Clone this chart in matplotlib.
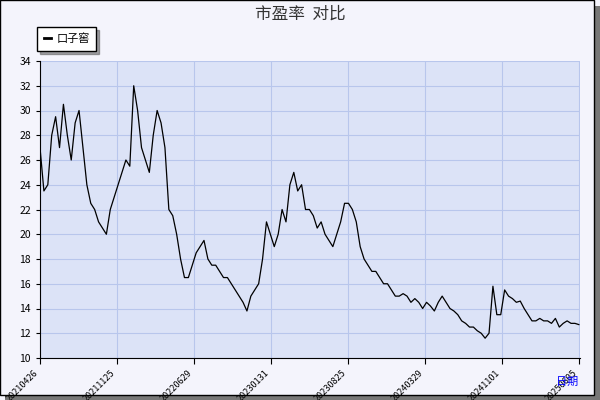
import numpy as np
import matplotlib.pyplot as plt
from matplotlib.patches import Rectangle

plt.rcParams['font.family'] = ['Noto Sans CJK SC', 'DejaVu Sans']

# 市盈率 values, sampled roughly every 10 trading days
pe_values = [27, 23.5, 24, 28, 29.5, 27, 30.5, 28, 26, 29, 30, 27, 24, 22.5,
             22, 21, 20.5, 20, 22, 23, 24, 25, 26, 25.5, 32, 30, 27, 26, 25, 28,
             30, 29, 27, 22, 21.5, 20, 18, 16.5, 16.5, 17.5, 18.5, 19, 19.5, 18,
             17.5, 17.5, 17, 16.5, 16.5, 16, 15.5, 15, 14.5, 13.8, 15, 15.5, 16,
             18, 21, 20, 19, 20, 22, 21, 24, 25, 23.5, 24, 22, 22, 21.5, 20.5,
             21, 20, 19.5, 19, 20, 21, 22.5, 22.5, 22, 21, 19, 18, 17.5, 17, 17,
             16.5, 16, 16, 15.5, 15, 15, 15.2, 15, 14.5, 14.8, 14.5, 14, 14.5,
             14.2, 13.8, 14.5, 15, 14.5, 14, 13.8, 13.5, 13, 12.8, 12.5, 12.5,
             12.2, 12, 11.6, 12, 15.8, 13.5, 13.5, 15.5, 15, 14.8, 14.5, 14.6,
             14, 13.5, 13, 13, 13.2, 13, 13, 12.8, 13.2, 12.5, 12.8, 13, 12.8,
             12.8, 12.7]
tick_labels = ['20210426', '20211125', '20220629', '20230131',
               '20230825', '20240329', '20241101', '20250605']
series_name = '口子窖'

x = np.arange(len(pe_values))
n = len(pe_values) - 1

fig = plt.figure(figsize=(6, 4), dpi=100, facecolor='#f4f4fc')
# outer border and shadow
fig.patches.append(Rectangle((0.008, 0.0), 0.992, 0.985, transform=fig.transFigure,
                             facecolor='#777777', edgecolor='none', zorder=-2))
fig.patches.append(Rectangle((0.0, 0.012), 0.99, 0.988, transform=fig.transFigure,
                             facecolor='#f4f4fc', edgecolor='black', lw=1, zorder=-1))

ax = fig.add_axes([40/600, 42/400, 540/600, 297/400])
ax.set_facecolor('#dce3f7')
ax.plot(x, pe_values, color='black', lw=0.9, label=series_name)
ax.set_xlim(0, n + 0.3)
ax.set_ylim(10, 34)
ax.set_yticks(range(10, 35, 2))
ticks = np.linspace(0, n, len(tick_labels))
ax.set_xticks(ticks)
ax.set_xticklabels(tick_labels, rotation=45, ha='right', fontsize=6.5)
ax.tick_params(axis='y', labelsize=7.5, length=3)
ax.tick_params(axis='x', length=4)
ax.grid(True, color='#b8c6ec', lw=0.8)
for s in ['top', 'right']:
    ax.spines[s].set_visible(False)
for s in ['left', 'bottom']:
    ax.spines[s].set_color('black')

fig.text(0.5, 0.965, '市盈率  对比', ha='center', va='center', fontsize=12, color='#333333')
fig.text(0.945, 0.045, '日期', ha='center', va='center', fontsize=8, color='blue')

leg = ax.legend(loc='upper left', bbox_to_anchor=(-0.005, 1.115), fontsize=8,
                frameon=True, fancybox=False, shadow=True, handlelength=0.6,
                borderpad=0.6, borderaxespad=0, handletextpad=0.5)
leg.get_frame().set_edgecolor('black')
leg.get_frame().set_linewidth(1)
for line in leg.get_lines():
    line.set_linewidth(2)

fig.savefig('out.png', dpi=100, facecolor=fig.get_facecolor())
